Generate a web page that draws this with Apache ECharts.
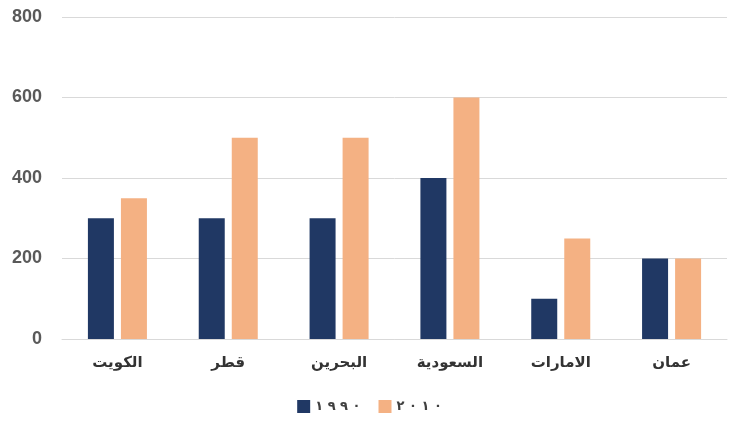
<!DOCTYPE html>
<html>
<head>
<meta charset="utf-8">
<script src="https://cdn.jsdelivr.net/npm/echarts@6/dist/echarts.min.js"></script>
<style>html,body{margin:0;padding:0;background:#fff}#c{width:739px;height:432px}</style>
</head>
<body>
<div id="c"></div>
<script>
const categories = ['الكويت', 'قطر', 'البحرين', 'السعودية', 'الامارات', 'عمان'];
const series1990 = [300, 300, 300, 400, 100, 200];
const series2010 = [350, 500, 500, 600, 250, 200];
const seriesNames = ['١ \u200E٩ \u200E٩ \u200E٠', '٢ \u200E٠ \u200E١ \u200E٠'];
const yTicks = [0, 200, 400, 600, 800];

const chart = echarts.init(document.getElementById('c'), null, {renderer: 'canvas'});
chart.setOption({
  animation: false,
  grid: {left: 62, right: 12, top: 17, bottom: 93},
  legend: {
    bottom: 14,
    left: 'center',
    itemWidth: 13, itemHeight: 13, itemGap: 18,
    icon: 'rect',
    textStyle: {fontFamily: 'DejaVu Sans', fontWeight: 'bold', fontSize: 13, color: '#404040'},
    data: seriesNames
  },
  xAxis: {
    type: 'category',
    data: categories,
    axisLine: {lineStyle: {color: '#d9d9d9'}},
    axisTick: {show: false},
    axisLabel: {margin: 16, fontFamily: '"Liberation Sans", "DejaVu Sans"', fontWeight: 'bold', fontSize: 15, color: '#333333'}
  },
  yAxis: {
    type: 'value',
    min: yTicks[0], max: yTicks[yTicks.length - 1], interval: 200,
    axisLine: {show: false},
    axisTick: {show: false},
    splitLine: {lineStyle: {color: '#d9d9d9'}},
    axisLabel: {margin: 20, fontFamily: '"Liberation Sans", Arial', fontWeight: 'bold', fontSize: 18, color: '#595959'}
  },
  series: [
    {name: seriesNames[0], type: 'bar', data: series1990, itemStyle: {color: '#203864'}, barWidth: 26, barGap: '27%'},
    {name: seriesNames[1], type: 'bar', data: series2010, itemStyle: {color: '#F4B183'}, barWidth: 26, barGap: '27%'}
  ]
});
</script>
</body>
</html>
